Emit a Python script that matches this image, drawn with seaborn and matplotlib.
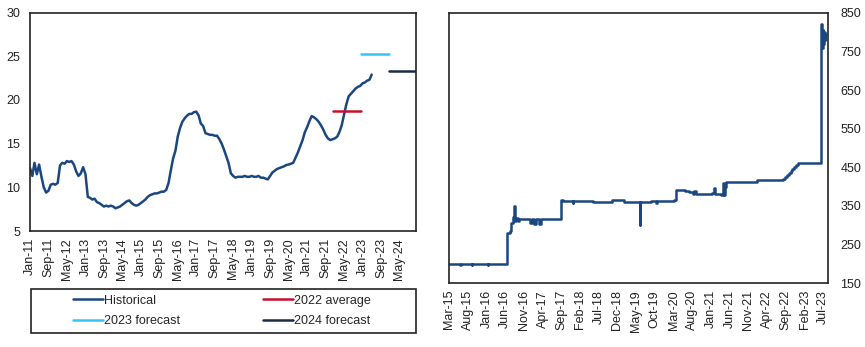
import matplotlib
matplotlib.use("Agg")
import numpy as np
import pandas as pd
import matplotlib.pyplot as plt
import seaborn as sns
from matplotlib.patches import Rectangle

# ---------------- data ----------------
hist_start = "2011-01-01"
hist_values = [
    # 2011
    12.2, 11.3, 12.8, 11.5, 12.6, 11.2, 10.0, 9.4, 9.6, 10.3, 10.4, 10.3,
    # 2012
    10.5, 12.5, 12.8, 12.7, 13.0, 12.9, 13.0, 12.6, 11.8, 11.3, 11.6, 12.3,
    # 2013
    11.5, 8.9, 8.8, 8.6, 8.7, 8.3, 8.2, 8.0, 7.8, 7.9, 7.8, 7.9,
    # 2014
    7.8, 7.6, 7.7, 7.8, 8.0, 8.2, 8.4, 8.5, 8.2, 8.0, 7.9, 8.0,
    # 2015
    8.2, 8.4, 8.6, 8.9, 9.1, 9.2, 9.3, 9.3, 9.4, 9.5, 9.5, 9.7,
    # 2016
    10.5, 12.0, 13.3, 14.2, 15.8, 16.8, 17.5, 17.9, 18.2, 18.4, 18.4, 18.6,
    # 2017
    18.65, 18.2, 17.3, 17.0, 16.2, 16.1, 16.0, 16.0, 15.9, 15.9, 15.5, 15.0,
    # 2018
    14.3, 13.5, 12.8, 11.6, 11.3, 11.1, 11.2, 11.2, 11.2, 11.3, 11.2, 11.2,
    # 2019
    11.3, 11.2, 11.2, 11.3, 11.1, 11.1, 11.0, 10.9, 11.3, 11.7, 11.9, 12.1,
    # 2020
    12.2, 12.3, 12.4, 12.55, 12.6, 12.7, 12.8, 13.4, 14.0, 14.7, 15.4, 16.3,
    # 2021
    16.9, 17.6, 18.15, 18.0, 17.8, 17.5, 17.1, 16.6, 16.0, 15.6, 15.4, 15.5,
    # 2022
    15.6, 15.8, 16.3, 17.1, 18.3, 19.5, 20.4, 20.7, 21.0, 21.3, 21.5, 21.6,
    # 2023
    21.9, 22.0, 22.2, 22.3, 22.9,
]

avg_2022_value = 18.7
avg_2022_span = ["2021-12-10", "2022-12-10"]
fc_2023_value = 25.2
fc_2023_span = ["2022-12-05", "2023-12-10"]
fc_2024_value = 23.3
fc_2024_span = ["2023-12-15", "2024-12-31"]

left_tick_labels = ["Jan-11", "Sep-11", "May-12", "Jan-13", "Sep-13", "May-14",
                    "Jan-15", "Sep-15", "May-16", "Jan-17", "Sep-17", "May-18",
                    "Jan-19", "Sep-19", "May-20", "Jan-21", "Sep-21", "May-22",
                    "Jan-23", "Sep-23", "May-24"]
left_yticks = [5, 10, 15, 20, 25, 30]

right_dates = [
    "2015-03-01", "2015-06-01", "2015-06-05", "2015-09-01", "2015-09-05",
    "2016-01-10", "2016-01-14", "2016-06-10", "2016-06-15", "2016-07-10",
    "2016-07-20", "2016-08-01", "2016-08-12", "2016-08-20", "2016-08-28",
    "2016-09-15", "2016-09-20", "2016-12-20", "2017-01-05", "2017-01-20",
    "2017-02-05", "2017-03-01", "2017-03-20", "2017-08-25", "2017-09-10",
    "2017-12-01", "2017-12-05", "2018-05-10", "2018-05-15", "2018-10-15",
    "2019-01-20", "2019-06-01", "2019-06-04", "2019-09-01", "2019-10-10",
    "2019-10-15", "2020-03-01", "2020-03-20", "2020-06-01", "2020-07-01",
    "2020-08-10", "2020-08-14", "2020-09-01", "2021-01-05", "2021-01-25",
    "2021-02-01", "2021-03-20", "2021-04-05", "2021-04-12", "2021-04-20",
    "2021-05-05", "2021-10-01", "2022-01-10", "2022-08-10", "2022-08-25",
    "2022-09-10", "2022-09-25", "2022-10-10", "2022-10-25", "2022-11-10",
    "2022-11-25", "2022-12-10", "2023-01-05", "2023-06-10",
    "2023-06-12", "2023-06-15", "2023-06-18", "2023-06-24", "2023-06-28",
    "2023-07-04", "2023-07-10", "2023-07-14", "2023-07-20",
]
right_values = [
    200, 197, 200, 197, 200,
    197, 200, 200, 280, 285,
    305, 320, 350, 310, 318,
    312, 316, 305, 315, 303,
    315, 302, 315, 365, 362,
    358, 362, 362, 360, 365,
    360, 300, 360, 362, 358,
    362, 365, 390, 388, 385,
    380, 388, 380, 384, 395,
    380, 378, 408, 378, 400,
    412, 412, 418, 420, 425,
    430, 436, 441, 446, 450,
    455, 460, 462, 462,
    650, 700, 822, 760, 805,
    770, 800, 780, 795,
]
right_tick_labels = ["Mar-15", "Aug-15", "Jan-16", "Jun-16", "Nov-16", "Apr-17",
                     "Sep-17", "Feb-18", "Jul-18", "Dec-18", "May-19", "Oct-19",
                     "Mar-20", "Aug-20", "Jan-21", "Jun-21", "Nov-21", "Apr-22",
                     "Sep-22", "Feb-23", "Jul-23"]
right_yticks = [150, 250, 350, 450, 550, 650, 750, 850]

# ---------------- styling ----------------
sns.set_theme(style="white")
plt.rcParams["font.family"] = ["Liberation Sans", "DejaVu Sans"]
plt.rcParams["font.size"] = 9

c_hist = "#1b4780"
c_red = "#c8102e"
c_cyan = "#33c5f3"
c_navy = "#1c2a48"
lw = 1.8

W, H = 865, 347
fig = plt.figure(figsize=(W / 100, H / 100), dpi=100)

def fx(px):
    return px / W

def fy(py):
    return 1 - py / H

# ---------------- left chart ----------------
ax1 = fig.add_axes([fx(30), fy(231), fx(416) - fx(30), fy(12.5) - fy(231)])
hist_df = pd.DataFrame({
    "date": pd.date_range(hist_start, periods=len(hist_values), freq="MS"),
    "value": hist_values,
})
sns.lineplot(data=hist_df, x="date", y="value", ax=ax1, color=c_hist, lw=lw,
             label="Historical")
seg = pd.DataFrame({"date": pd.to_datetime(avg_2022_span),
                    "value": [avg_2022_value] * 2})
sns.lineplot(data=seg, x="date", y="value", ax=ax1, color=c_red, lw=lw,
             label="2022 average")
seg = pd.DataFrame({"date": pd.to_datetime(fc_2023_span),
                    "value": [fc_2023_value] * 2})
sns.lineplot(data=seg, x="date", y="value", ax=ax1, color=c_cyan, lw=lw,
             label="2023 forecast")
seg = pd.DataFrame({"date": pd.to_datetime(fc_2024_span),
                    "value": [fc_2024_value] * 2})
sns.lineplot(data=seg, x="date", y="value", ax=ax1, color=c_navy, lw=lw,
             label="2024 forecast")

ax1.set_xlim(pd.Timestamp("2011-01-01"), pd.Timestamp("2024-12-05"))
ax1.set_ylim(5, 30)
ax1.set_yticks(left_yticks)
ax1.set_yticklabels([str(v) for v in left_yticks])
ax1.set_xticks(pd.to_datetime(left_tick_labels, format="%b-%y"))
ax1.set_xticklabels(left_tick_labels, rotation=90)
ax1.set_xlabel("")
ax1.set_ylabel("")
ax1.tick_params(axis="both", length=0, labelsize=9, colors="#222222")
ax1.tick_params(axis="y", pad=7)
ax1.tick_params(axis="x", pad=5)
for s in ax1.spines.values():
    s.set_color("#222222")
    s.set_linewidth(1.2)

handles, labels = ax1.get_legend_handles_labels()
ax1.get_legend().remove()
order = [0, 2, 1, 3]
fig.legend([handles[i] for i in order], [labels[i] for i in order],
           ncol=2, loc="center", bbox_to_anchor=(fx(222), fy(311)),
           frameon=False, handlelength=2.4, handletextpad=0.1,
           columnspacing=6.6, labelspacing=0.7, fontsize=9)
fig.patches.append(Rectangle((fx(31), fy(333)), fx(416) - fx(31),
                             fy(289) - fy(333), transform=fig.transFigure,
                             fill=False, edgecolor="#222222", lw=1.2))

# ---------------- right chart ----------------
ax2 = fig.add_axes([fx(449), fy(283), fx(828) - fx(449), fy(13) - fy(283)])
r_df = pd.DataFrame({"date": pd.to_datetime(right_dates), "value": right_values})
sns.lineplot(data=r_df, x="date", y="value", ax=ax2, color=c_hist, lw=lw,
             drawstyle="steps-post")
ax2.set_xlim(pd.Timestamp("2015-03-01"), pd.Timestamp("2023-08-10"))
ax2.set_ylim(150, 850)
ax2.yaxis.tick_right()
ax2.set_yticks(right_yticks)
ax2.set_yticklabels([str(v) for v in right_yticks])
ax2.set_xticks(pd.to_datetime(right_tick_labels, format="%b-%y"))
ax2.set_xticklabels(right_tick_labels, rotation=90)
ax2.set_xlabel("")
ax2.set_ylabel("")
ax2.tick_params(axis="both", length=0, labelsize=9, colors="#222222")
ax2.tick_params(axis="y", pad=9)
ax2.tick_params(axis="x", pad=5)
for s in ax2.spines.values():
    s.set_color("#222222")
    s.set_linewidth(1.2)

fig.savefig("out.png", dpi=100)
